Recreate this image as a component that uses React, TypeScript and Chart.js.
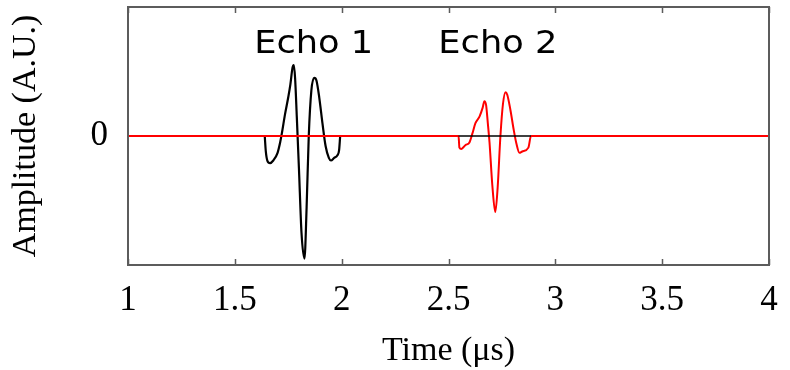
import React, { useEffect, useRef } from "react";
import { Chart, registerables } from "chart.js";

Chart.register(...registerables);

// Echo 1 (black) waveform: time in µs, amplitude in A.U.
const echo1Time = [1.640, 1.645, 1.652, 1.665, 1.680, 1.700, 1.712, 1.720, 1.735, 1.750, 1.760, 1.770, 1.776, 1.782, 1.790, 1.800, 1.812, 1.826, 1.836, 1.846, 1.858, 1.872, 1.882, 1.895, 1.910, 1.925, 1.940, 1.950, 1.965, 1.980, 1.988, 1.993];
const echo1Amp = [0.0, -0.12, -0.19, -0.21, -0.19, -0.13, -0.05, 0.02, 0.17, 0.30, 0.40, 0.53, 0.55, 0.45, 0.15, -0.25, -0.75, -0.95, -0.55, 0.0, 0.35, 0.45, 0.43, 0.30, 0.10, -0.08, -0.17, -0.19, -0.17, -0.15, -0.11, 0.0];

// Echo 2 (red) waveform, with a flat baseline over the whole time range
const echo2Time = [1.0, 2.547, 2.551, 2.560, 2.580, 2.598, 2.612, 2.626, 2.645, 2.660, 2.668, 2.676, 2.684, 2.692, 2.705, 2.719, 2.730, 2.743, 2.755, 2.767, 2.775, 2.790, 2.805, 2.818, 2.832, 2.845, 2.874, 2.886, 4.0];
const echo2Amp = [0.0, 0.0, -0.09, -0.10, -0.07, -0.05, 0.02, 0.10, 0.15, 0.22, 0.27, 0.24, 0.10, -0.05, -0.38, -0.59, -0.40, 0.0, 0.25, 0.34, 0.32, 0.20, 0.05, -0.06, -0.13, -0.12, -0.09, 0.0, 0.0];

// Black baseline segment visible over echo 2 window
const baseTime = [2.547, 2.886];
const baseAmp = [0.0, 0.0];

const xTicks = [1, 1.5, 2, 2.5, 3, 3.5, 4];
const yTicks = [0];

const labelTexts = ["Echo 1", "Echo 2"];
const labelTime = [1.869, 2.731];
const labelAmp = [0.646, 0.646];

const toPoints = (xs: number[], ys: number[]) => xs.map((x, i) => ({ x, y: ys[i] }));

const boxPlugin = {
  id: "boxAndLabels",
  afterDraw(chart: any) {
    const { ctx, chartArea, scales } = chart;
    const { left, right, top, bottom } = chartArea;
    ctx.save();
    ctx.strokeStyle = "#5c5c5c";
    ctx.lineWidth = 2;
    ctx.strokeRect(left, top, right - left, bottom - top);
    ctx.lineWidth = 1.5;
    ctx.beginPath();
    for (const t of scales.x.ticks) {
      const px = Math.round(scales.x.getPixelForValue(t.value)) + 0.5;
      ctx.moveTo(px, bottom);
      ctx.lineTo(px, bottom - 6);
      ctx.moveTo(px, top);
      ctx.lineTo(px, top + 6);
    }
    ctx.stroke();
    ctx.fillStyle = "#000";
    ctx.font = '32px "DejaVu Sans"';
    ctx.textAlign = "center";
    ctx.textBaseline = "alphabetic";
    labelTexts.forEach((txt, i) => {
      const px = scales.x.getPixelForValue(labelTime[i]);
      const py = scales.y.getPixelForValue(labelAmp[i]);
      ctx.save();
      ctx.translate(px, py);
      ctx.scale(1.1, 1);
      ctx.fillText(txt, 0, 0);
      ctx.restore();
    });
    ctx.restore();
  },
};

export default function App() {
  const canvasRef = useRef<HTMLCanvasElement | null>(null);

  useEffect(() => {
    if (!canvasRef.current) return;
    const chart = new Chart(canvasRef.current, {
      type: "line",
      data: {
        datasets: [
          {
            label: "baseline",
            data: toPoints(baseTime, baseAmp),
            borderColor: "#000000",
            borderWidth: 1.5,
            pointRadius: 0,
            order: 0,
          },
          {
            label: "Echo 2",
            data: toPoints(echo2Time, echo2Amp),
            borderColor: "#ff0000",
            borderWidth: 2,
            pointRadius: 0,
            cubicInterpolationMode: "monotone",
            order: 1,
          },
          {
            label: "Echo 1",
            data: toPoints(echo1Time, echo1Amp),
            borderColor: "#000000",
            borderWidth: 2.2,
            pointRadius: 0,
            cubicInterpolationMode: "monotone",
            order: 2,
          },
        ],
      },
      options: {
        animation: false,
        responsive: true,
        maintainAspectRatio: false,
        parsing: false as any,
        layout: { padding: { left: 0, right: 21, top: 7, bottom: 0 } },
        plugins: { legend: { display: false }, tooltip: { enabled: false } },
        scales: {
          x: {
            type: "linear",
            min: 1,
            max: 4,
            afterBuildTicks: (scale: any) => {
              scale.ticks = xTicks.map((v) => ({ value: v }));
            },
            afterFit: (scale: any) => {
              scale.height = 105;
              scale.paddingLeft = 0;
              scale.paddingRight = 0;
              scale.paddingTop = 0;
              scale.paddingBottom = 0;
            },
            grid: { display: false, drawTicks: false },
            border: { display: false },
            ticks: {
              color: "#000",
              font: { family: '"Liberation Serif"', size: 35 },
              padding: 15,
              maxRotation: 0,
              autoSkip: false,
              callback: (v: any) => String(v),
            },
            title: {
              display: true,
              text: "Time (μs)",
              color: "#000",
              font: { family: '"Liberation Serif"', size: 34, lineHeight: 1.1 },
              padding: { top: 0, bottom: 0 },
            },
          },
          y: {
            type: "linear",
            min: -1,
            max: 1,
            afterBuildTicks: (scale: any) => {
              scale.ticks = yTicks.map((v) => ({ value: v }));
            },
            afterFit: (scale: any) => {
              scale.width = 128;
              scale.paddingLeft = 0;
              scale.paddingRight = 0;
              scale.paddingTop = 0;
              scale.paddingBottom = 0;
            },
            grid: { display: false, drawTicks: false },
            border: { display: false },
            ticks: {
              color: "#000",
              font: { family: '"Liberation Serif"', size: 35 },
              padding: 20,
              callback: (v: any) => String(v),
            },
            title: {
              display: true,
              text: "Amplitude (A.U.)",
              color: "#000",
              font: { family: '"Liberation Serif"', size: 34 },
              padding: { top: 6, bottom: 0 },
            },
          },
        },
      },
      plugins: [boxPlugin],
    });
    return () => chart.destroy();
  }, []);

  return (
    <div style={{ position: "absolute", left: 0, top: 0, width: 790, height: 370, background: "#fff" }}>
      <canvas ref={canvasRef} />
    </div>
  );
}
